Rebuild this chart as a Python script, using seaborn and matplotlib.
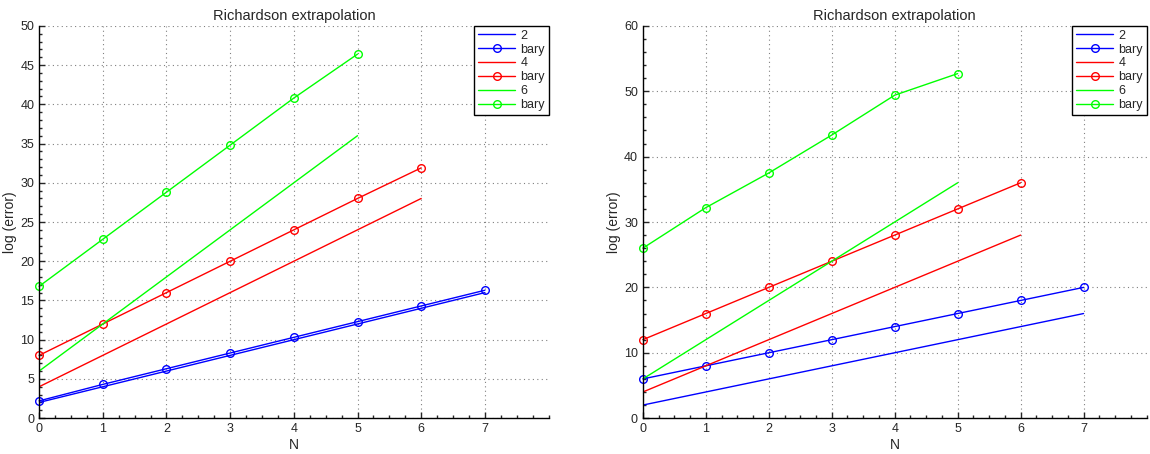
import matplotlib
matplotlib.use("Agg")
import matplotlib.pyplot as plt
import seaborn as sns
from matplotlib.ticker import AutoMinorLocator

sns.set_style("ticks")
plt.rcParams['font.family'] = ['Liberation Sans', 'DejaVu Sans']

# order of the rule
n2 = [0, 1, 2, 3, 4, 5, 6, 7]
n4 = [0, 1, 2, 3, 4, 5, 6]
n6 = [0, 1, 2, 3, 4, 5]
ref2 = [2, 4, 6, 8, 10, 12, 14, 16]
ref4 = [4, 8, 12, 16, 20, 24, 28]
ref6 = [6, 12, 18, 24, 30, 36]

# left panel, barycentric
left_bary2 = [2.2, 4.3, 6.3, 8.3, 10.3, 12.3, 14.3, 16.3]
left_bary4 = [8, 12, 16, 20, 24, 28, 31.9]
left_bary6 = [16.8, 22.8, 28.8, 34.8, 40.8, 46.4]

# right panel, barycentric
right_bary2 = [6, 8, 10, 12, 14, 16, 18, 20]
right_bary4 = [12, 16, 20, 24, 28, 32, 36]
right_bary6 = [26, 32.2, 37.5, 43.3, 49.4, 52.7]

blue = (0, 0, 1)
red = (1, 0, 0)
green = (0, 1, 0)


def DrawPanel(ax, bary2, bary4, bary6, yMax, yStep):
    series = [(n2, ref2, bary2, blue, '2'),
              (n4, ref4, bary4, red, '4'),
              (n6, ref6, bary6, green, '6')]
    for n, ref, bary, col, name in series:
        sns.lineplot(x=n, y=ref, ax=ax, color=col, linewidth=1.0, label=name)
        sns.lineplot(x=n, y=bary, ax=ax, color=col, linewidth=1.0, label='bary',
                     marker='o', markersize=5.5, markerfacecolor='none',
                     markeredgecolor=col, markeredgewidth=1.0, clip_on=False)
    ax.set_xlim(0, 8)
    ax.set_xticks(range(0, 8))
    ax.set_ylim(0, yMax)
    ax.set_yticks(range(0, yMax + 1, yStep))
    ax.xaxis.set_minor_locator(AutoMinorLocator(4))
    ax.yaxis.set_minor_locator(AutoMinorLocator(5))
    ax.tick_params(direction='in', which='both', labelsize=9, length=4, width=1)
    ax.tick_params(which='minor', length=2)
    ax.grid(True, which='major', linestyle=(0, (1, 3)), color='#808080', linewidth=0.8)
    sns.despine(ax=ax)
    for s in ['left', 'bottom']:
        ax.spines[s].set_color('black')
        ax.spines[s].set_linewidth(1.0)
    ax.set_title("Richardson extrapolation", fontsize=10.5, pad=4)
    ax.set_xlabel("N", fontsize=10, labelpad=2)
    ax.set_ylabel("log (error)", fontsize=10, labelpad=2)
    leg = ax.legend(loc='upper right', fontsize=9, frameon=True, fancybox=False,
                    borderaxespad=0.0, handlelength=3.0, labelspacing=0.15,
                    borderpad=0.3, handletextpad=0.4, bbox_to_anchor=(1.0, 1.0))
    leg.get_frame().set_edgecolor('black')
    leg.get_frame().set_linewidth(1.0)
    leg.get_frame().set_alpha(1.0)


fig = plt.figure(figsize=(11.5, 4.54), dpi=100)
axLeft = fig.add_axes([0.034, 0.079, 0.443, 0.864])
axRight = fig.add_axes([0.559, 0.079, 0.438, 0.864])

DrawPanel(axLeft, left_bary2, left_bary4, left_bary6, 50, 5)
DrawPanel(axRight, right_bary2, right_bary4, right_bary6, 60, 10)

fig.savefig("out.png", dpi=100)
